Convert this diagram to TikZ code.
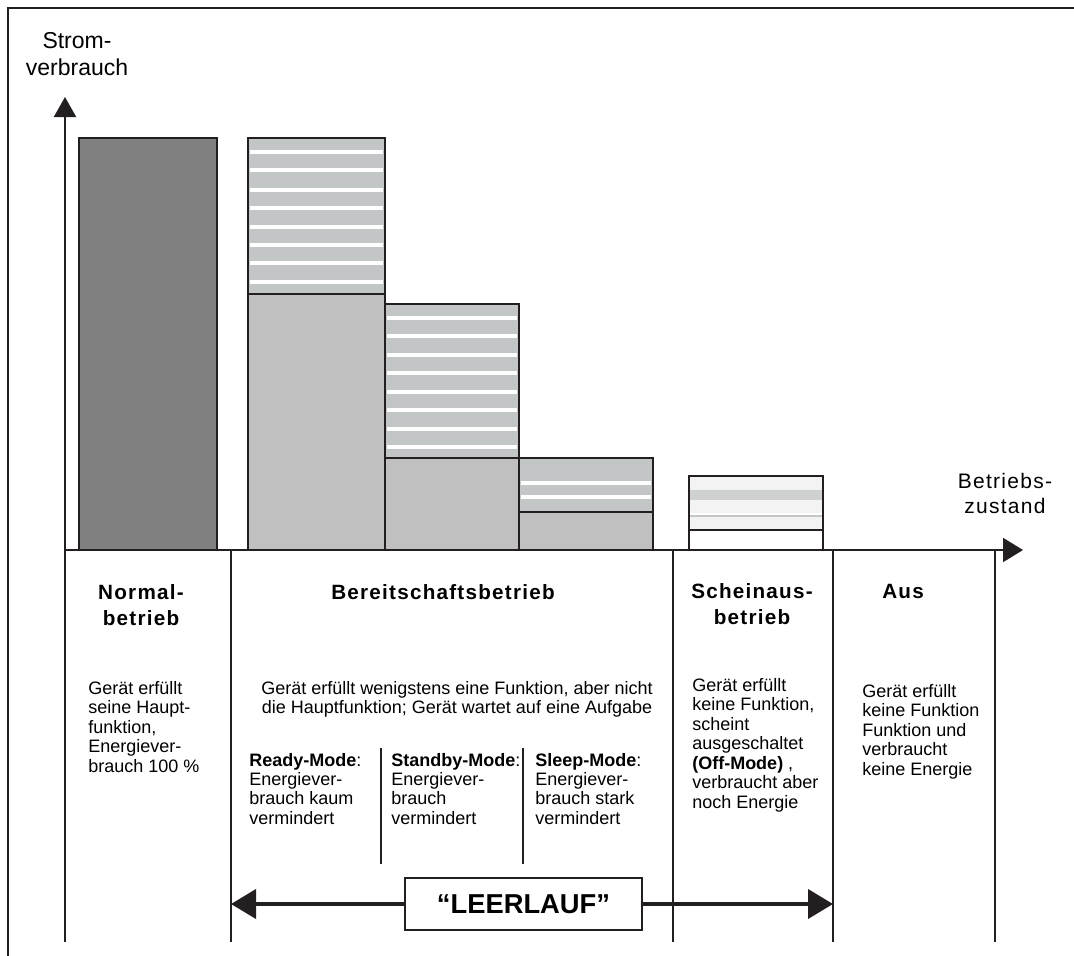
\documentclass[tikz,border=0pt]{standalone}
\usepackage{fontspec}
\setmainfont{Liberation Sans}
\newfontfamily\headfont[LetterSpace=6]{Liberation Sans}
\usetikzlibrary{arrows.meta}
\definecolor{darkbar}{HTML}{808080}
\definecolor{lightbar}{HTML}{C0C0C0}
\definecolor{stripebg}{HTML}{C3C6C6}
\definecolor{offbg}{HTML}{F3F3F3}
\definecolor{linecol}{HTML}{231F20}
\newcommand{\bodysize}{\fontsize{13.5}{14.6}\selectfont}
\newcommand{\headsize}{\fontsize{15.5}{19.5}\selectfont}
\begin{document}
\begin{tikzpicture}[x=0.75pt,y=-0.75pt,
  ln/.style={line width=1.5pt, draw=linecol},
  barbox/.style={line width=1.5pt, draw=linecol},
  stripe/.style={white, line width=2.4pt},
  bodytxt/.style={inner sep=0pt, align=left, anchor=base west, font=\bodysize},
  headtxt/.style={inner sep=0pt, align=center, anchor=base, font=\headsize\headfont\bfseries},
  axtxt/.style={inner sep=0pt, align=center, anchor=base},
  bigarrow/.style={line width=3pt, draw=linecol, -{Triangle[length=18.75pt,width=21.75pt]}}]
\useasboundingbox (0,0) rectangle (1074,956);
\fill[white] (0,0) rectangle (1074,956);
% frame
\coordinate (FBL) at (8,956);
\coordinate (FTL) at (8,8);
\coordinate (FTR) at (1074,8);
\draw[ln] (FBL) -- (FTL) -- (FTR);

% ---- bars ----
% Normalbetrieb
\filldraw[barbox, fill=darkbar] (79,138) rectangle (217,550);
% Ready
\fill[stripebg] (248,138) rectangle (385,294);
\foreach \y in {152,170,190,208,227,245,263,282} \draw[stripe] (250,\y) -- (383,\y);
\draw[barbox] (248,138) rectangle (385,294);
\filldraw[barbox, fill=lightbar] (248,294) rectangle (385,550);
% Standby
\fill[stripebg] (385,304) rectangle (519,458);
\foreach \y in {318,336,355,373,392,410,429,447} \draw[stripe] (387,\y) -- (517,\y);
\draw[barbox] (385,304) rectangle (519,458);
\filldraw[barbox, fill=lightbar] (385,458) rectangle (519,550);
% Sleep
\fill[stripebg] (519,458) rectangle (653,512);
\foreach \y in {483,497} \draw[stripe] (521,\y) -- (651,\y);
\draw[barbox] (519,458) rectangle (653,512);
\filldraw[barbox, fill=lightbar] (519,512) rectangle (653,550);
% Off-Mode
\fill[offbg] (689,476) rectangle (823,530);
\fill[stripebg!80] (689,490) rectangle (823,500);
\draw[white, line width=1.5pt] (690,514) -- (822,514);
\draw[stripebg, line width=0.8pt] (690,516) -- (822,516);
\draw[barbox] (689,476) rectangle (823,530);
\draw[barbox] (689,530) rectangle (823,550);

% ---- axes ----
\coordinate (Ybot) at (65,942);
\coordinate (Ytip) at (65,97);
\coordinate (Xstart) at (65,550);
\coordinate (Xtip) at (1023,550);
\draw[ln, -{Triangle[length=15pt,width=16.5pt]}] (Ybot) -- (Ytip);
\draw[ln, -{Triangle[length=15pt,width=18pt]}] (Xstart) -- (Xtip);

% separators
\foreach \x in {231,673,833,995} \draw[ln] (\x,550) -- (\x,942);
\foreach \x in {381,523} \draw[ln] (\x,748) -- (\x,864);

% ---- axis labels (anchor = baseline of last line) ----
\node[axtxt, font=\fontsize{17.25}{20.25}\selectfont] (ylab) at (77,75) {Strom-\\verbrauch};
\node[axtxt, font=\fontsize{15.75}{18.75}\selectfont\headfont] (xlab) at (1005,513) {Betriebs-\\zustand};

% ---- headings ----
\node[headtxt] (h1) at (141,625) {Normal-\\betrieb};
\node[headtxt] (h2) at (443,599) {Bereitschaftsbetrieb};
\node[headtxt] (h3) at (752,624) {Scheinaus-\\betrieb};
\node[headtxt] (h4) at (903,598) {Aus};

% ---- body texts ----
\node[bodytxt] (t1) at (88,772) {Gerät erfüllt\\seine Haupt-\\funktion,\\Energiever-\\brauch 100 \%};
\node[bodytxt, align=center, anchor=base] (t2) at (457,713.5) {Gerät erfüllt wenigstens eine Funktion, aber nicht\\die Hauptfunktion; Gerät wartet auf eine Aufgabe};
\node[bodytxt] (t3) at (249,824.4) {\textbf{Ready-Mode}:\\Energiever-\\brauch kaum\\vermindert};
\node[bodytxt] (t4) at (391,824.4) {\textbf{Standby-Mode}:\\Energiever-\\brauch\\vermindert};
\node[bodytxt] (t5) at (535,824.4) {\textbf{Sleep-Mode}:\\Energiever-\\brauch stark\\vermindert};
\node[bodytxt] (t6) at (692,808) {Gerät erfüllt\\keine Funktion,\\scheint\\ausgeschaltet\\\textbf{(Off-Mode)} ,\\verbraucht aber\\noch Energie};
\node[bodytxt] (t7) at (862,775) {Gerät erfüllt\\keine Funktion\\Funktion und\\verbraucht\\keine Energie};

% ---- LEERLAUF ----
\node[draw=linecol, line width=1.5pt, fill=white, minimum width=177.75pt, minimum height=39pt, inner sep=0pt,
      font=\fontsize{20.5}{24}\selectfont\bfseries] (LL) at (523.5,904) {“LEERLAUF”};
\coordinate (Lleft) at (231,904);
\coordinate (Lright) at (833,904);
\draw[bigarrow] (LL.west) -- (Lleft);
\draw[bigarrow] (LL.east) -- (Lright);
\end{tikzpicture}
\end{document}
